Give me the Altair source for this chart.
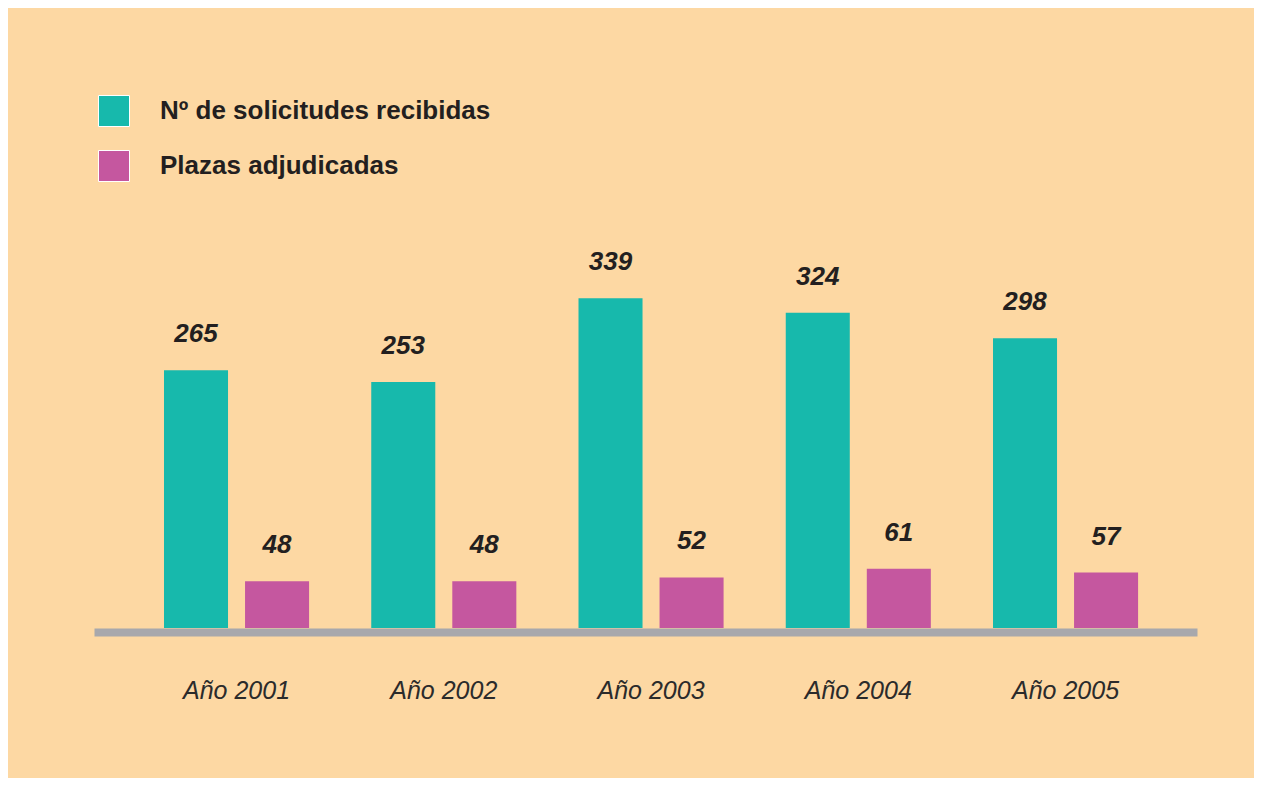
import altair as alt
import pandas as pd

years = ["Año 2001", "Año 2002", "Año 2003", "Año 2004", "Año 2005"]
solicitudes = [265, 253, 339, 324, 298]
plazas = [48, 48, 52, 61, 57]
series = ["Nº de solicitudes recibidas", "Plazas adjudicadas"]
colors = ["#17B9AC", "#C5579F"]

rows = []
for y, s, p in zip(years, solicitudes, plazas):
    rows.append({"year": y, "serie": series[0], "value": s})
    rows.append({"year": y, "serie": series[1], "value": p})
df = pd.DataFrame(rows)

FONT = "Liberation Sans"
DARK = "#231F20"

base = alt.Chart(df).encode(
    x=alt.X(
        "year:N",
        sort=years,
        scale=alt.Scale(paddingInner=0.30, paddingOuter=0.311, align=0.543),
        axis=alt.Axis(
            title=None, labelAngle=0, ticks=False, tickSize=0,
            domainColor="#A8A8AC", domainWidth=8, offset=4,
            labelFont=FONT, labelFontSize=25, labelFontStyle="italic",
            labelColor="#2B2B2B", labelPadding=46,
        ),
    ),
    xOffset=alt.XOffset("serie:N", sort=series,
                        scale=alt.Scale(paddingInner=0.21, paddingOuter=0)),
    y=alt.Y("value:Q", scale=alt.Scale(domain=[0, 440]), axis=None),
)

bars = base.mark_bar().encode(
    color=alt.Color(
        "serie:N",
        sort=series,
        scale=alt.Scale(domain=series, range=colors),
        legend=alt.Legend(
            title=None, orient="none", legendX=4, legendY=-105,
            symbolType="square", symbolSize=961, symbolStrokeColor="white",
            symbolStrokeWidth=1, symbolOpacity=1,
            labelFont=FONT, labelFontSize=26, labelFontWeight="bold",
            labelColor=DARK, labelOffset=30, rowPadding=19, padding=0,
            labelLimit=600,
        ),
    )
)

labels = base.mark_text(
    dy=-36, font=FONT, fontSize=26, fontWeight="bold", fontStyle="italic",
    color=DARK, baseline="middle",
).encode(text="value:Q")

chart = alt.layer(bars, labels).properties(
    width=1103, height=428,
    autosize=alt.AutoSizeParams(type="none"),
    padding={"left": 86, "top": 192, "right": 57, "bottom": 150},
).configure(
    background="#FDD8A3",
).configure_view(stroke=None).configure_axis(grid=False)

chart.save("out.html", embed_options={"renderer": "svg", "actions": False})
